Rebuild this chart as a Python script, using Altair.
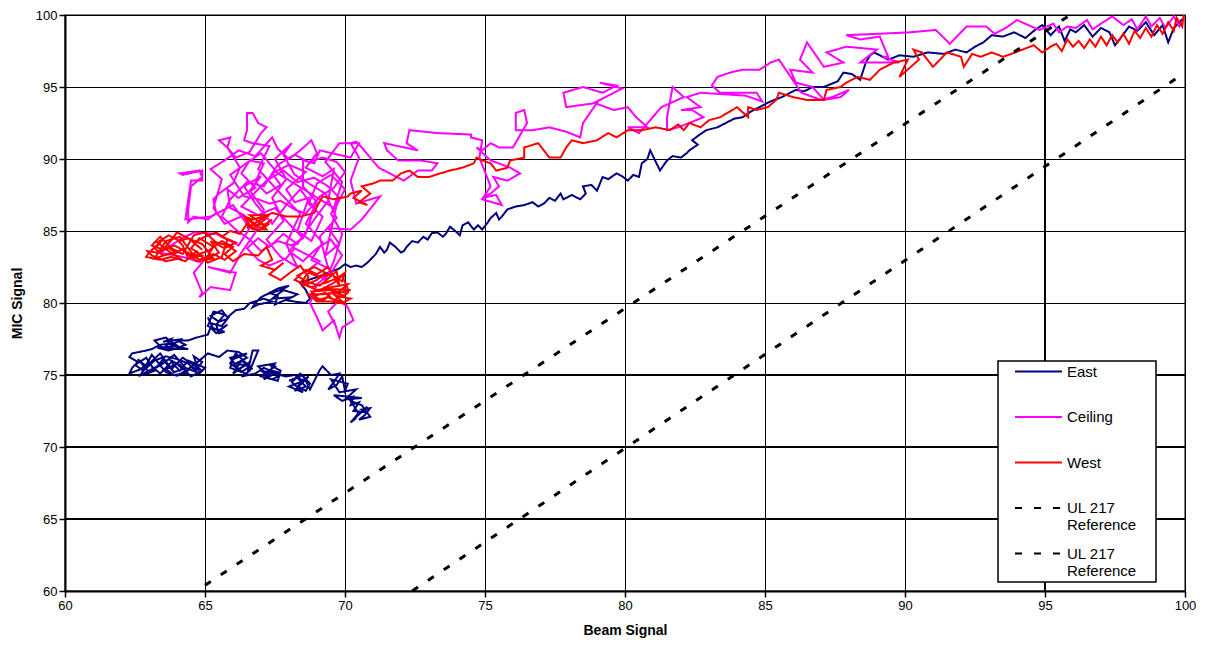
import altair as alt
import pandas as pd

FONT = "Liberation Sans"

# ---------------- data ----------------
east = [
(99.9, 99.7), (99.6, 99.1), (99.4, 98.1), (99.2, 99.3), (98.9, 98.6), (98.6, 99.5), (98.3, 98.9), (98.0, 99.2),
(97.7, 98.4), (97.5, 97.9), (97.3, 98.8), (97.0, 99.1), (96.7, 98.5), (96.4, 99.3), (96.1, 98.8), (95.9, 99.0),
(95.7, 98.2), (95.5, 99.2), (95.2, 98.6), (94.9, 99.3), (94.6, 98.9), (94.3, 98.4), (93.9, 98.8), (93.5, 98.5),
(93.1, 98.6), (92.8, 98.1), (92.5, 97.8), (92.2, 97.4), (91.8, 97.6), (91.4, 97.3), (90.8, 97.4), (90.3, 97.1),
(89.8, 97.2), (89.4, 96.9), (88.9, 97.4), (88.75, 97.2), (88.6, 96.7), (88.4, 95.5), (88.1, 95.9), (87.8, 96.0),
(87.6, 95.4), (87.1, 95.0), (86.7, 95.0), (86.4, 94.7), (86.1, 94.8), (85.8, 94.5), (85.6, 94.3), (85.2, 94.0),
(84.8, 93.6), (84.5, 93.3), (84.2, 92.9), (83.9, 92.8), (83.6, 92.5), (83.3, 92.2), (82.9, 92.0), (82.6, 91.6),
(82.4, 91.3), (82.6, 91.0), (82.3, 90.6), (82.2, 90.4), (82.0, 90.1), (81.7, 90.2), (81.5, 89.9), (81.25, 89.2),
(81.1, 89.8), (80.9, 90.6), (80.8, 90.0), (80.6, 89.7), (80.5, 88.75), (80.3, 88.9), (80.1, 88.5), (79.9, 88.8),
(79.7, 89.0), (79.4, 88.6), (79.2, 88.75), (79.0, 87.8), (78.8, 88.2), (78.5, 88.1), (78.6, 87.6), (78.5, 87.4),
(78.4, 87.2), (78.1, 87.5), (77.8, 87.2), (77.7, 87.6), (77.5, 87.1), (77.3, 87.3), (77.1, 86.9), (76.9, 86.7),
(76.7, 87.0), (76.4, 86.8), (76.1, 86.7), (75.8, 86.5), (75.6, 86.0), (75.5, 85.8), (75.4, 86.25), (75.2, 85.9),
(75.1, 85.6), (74.9, 85.1), (74.75, 85.4), (74.6, 85.1), (74.4, 85.6), (74.2, 85.4), (74.1, 84.7), (74.0, 84.9),
(73.75, 85.3), (73.6, 84.8), (73.5, 84.6), (73.3, 84.9), (73.1, 84.85), (72.95, 84.4), (72.8, 84.6), (72.6, 84.2),
(72.4, 84.3), (72.2, 83.9), (72.1, 83.6), (72.0, 83.5), (71.8, 83.9), (71.6, 84.2), (71.5, 83.7), (71.4, 83.5),
(71.25, 83.9), (71.1, 83.4), (70.9, 83.0), (70.8, 82.8), (70.6, 82.5), (70.4, 82.6), (70.2, 82.5), (70.0, 82.7),
(69.8, 82.4), (69.4, 82.1), (69.0, 81.8), (68.7, 81.6), (68.4, 81.4), (68.6, 80.9), (68.75, 80.3), (68.6, 80.0),
(68.2, 80.1), (67.9, 80.2), (68.3, 80.6), (67.8, 80.9), (67.4, 80.3), (68.1, 80.4), (67.5, 79.9), (67.6, 80.5),
(67.3, 80.7), (67.6, 81.0), (68.0, 81.2), (67.7, 80.9), (67.2, 80.6), (67.0, 80.4), (66.8, 80.0), (66.7, 79.7),
(66.9, 79.9), (67.4, 80.1), (67.1, 80.3), (66.6, 80.0), (66.4, 79.6), (66.1, 79.5), (65.8, 79.0), (65.6, 79.5),
(65.4, 79.3), (65.2, 79.1), (65.5, 78.7), (65.8, 78.9), (65.6, 78.4), (65.2, 78.6), (65.1, 79.0), (65.3, 78.2),
(65.7, 78.0), (65.5, 77.9), (65.4, 78.5), (65.7, 79.2), (65.3, 79.4), (65.1, 78.4), (65.5, 78.1), (65.8, 78.5),
(65.4, 77.9), (65.2, 78.3), (65.1, 77.8), (64.7, 77.6), (64.4, 77.4), (64.0, 77.4), (64.3, 77.1), (63.9, 76.8),
(63.6, 77.0), (63.8, 77.5), (63.5, 77.3), (64.2, 77.5), (63.8, 77.1), (64.4, 76.8), (63.5, 76.8), (63.2, 77.4),
(63.6, 77.6), (64.0, 77.0), (63.3, 76.9), (63.7, 76.7), (64.1, 76.9), (63.9, 77.2), (63.4, 77.1), (63.1, 76.8),
(62.9, 76.7), (62.4, 76.5), (62.3, 76.25), (62.6, 75.9), (62.4, 75.5), (62.3, 75.1), (62.7, 75.4), (63.0, 75.9),
(63.2, 75.3), (62.8, 75.0), (63.3, 75.6), (63.5, 76.1), (63.7, 75.6), (63.9, 75.2), (64.2, 75.4), (64.0, 75.8),
(63.6, 75.4), (63.9, 75.0), (64.3, 75.1), (64.5, 75.6), (64.7, 75.4), (64.9, 75.9), (64.6, 76.3), (64.8, 75.1),
(65.0, 75.5), (64.4, 76.0), (64.1, 75.3), (63.8, 75.9), (63.4, 75.1), (63.1, 75.6), (62.9, 76.2), (62.5, 75.7),
(62.8, 75.3), (63.2, 76.0), (63.6, 76.3), (64.0, 76.1), (64.4, 75.8), (64.7, 75.2), (64.3, 75.5), (63.9, 76.4),
(63.5, 75.8), (63.0, 75.2), (62.6, 76.1), (62.9, 75.6), (63.4, 76.5), (63.8, 75.4), (64.2, 76.2), (64.6, 75.7),
(64.9, 75.3), (64.5, 74.9), (64.1, 75.7), (63.7, 76.1), (63.2, 75.5), (62.7, 75.0), (63.1, 76.4), (63.6, 75.2),
(64.0, 74.95), (64.4, 75.4), (64.8, 76.0), (65.1, 76.5), (65.5, 76.25), (65.8, 76.7), (66.2, 76.6), (66.5, 76.2),
(66.1, 75.8), (66.6, 75.6), (66.3, 75.2), (65.9, 75.5), (66.0, 76.1), (66.4, 76.4), (66.5, 76.5), (65.9, 76.2),
(66.2, 75.4), (66.6, 75.9), (66.0, 75.1), (66.3, 76.0), (66.7, 75.4), (66.1, 76.5), (65.9, 75.8), (66.5, 75.0),
(66.7, 76.7), (66.9, 76.7), (66.6, 75.3), (66.3, 74.9), (66.8, 75.1), (67.1, 75.5), (67.4, 75.2), (67.2, 74.8),
(67.6, 74.6), (67.7, 75.3), (67.3, 75.7), (67.5, 75.6), (67.0, 74.9), (67.4, 74.7), (67.7, 75.0), (67.2, 75.4),
(67.6, 75.2), (67.1, 74.7), (67.5, 75.8), (66.9, 75.6), (67.3, 74.9), (67.0, 75.3), (67.9, 74.9), (68.2, 75.0),
(68.5, 74.6), (68.3, 74.2), (68.6, 73.9), (68.75, 74.4), (68.4, 75.1), (68.1, 74.5), (68.5, 73.8), (68.0, 74.2),
(68.4, 74.5), (68.7, 74.9), (68.2, 73.9), (68.6, 74.2), (68.3, 74.8), (68.0, 74.6), (68.5, 75.0), (68.75, 74.0),
(69.1, 75.35), (69.2, 75.6), (69.5, 75.0), (69.8, 75.1), (69.6, 74.5), (69.4, 74.0), (69.7, 74.3), (69.9, 74.9),
(70.0, 73.9), (70.1, 74.4), (69.5, 74.7), (69.8, 73.8), (70.4, 74.0), (70.0, 73.3), (70.6, 73.4), (69.6, 73.6),
(69.9, 73.2), (70.3, 73.5), (70.2, 72.9), (70.5, 73.1), (70.3, 72.5), (70.8, 72.4), (70.6, 72.6), (70.9, 72.7),
(70.7, 72.2), (70.5, 71.9), (70.9, 72.1), (70.6, 72.9), (70.2, 73.2), (70.5, 72.3), (70.8, 72.8), (70.3, 71.9),
(70.4, 72.0), (70.2, 71.7), (70.5, 72.4),
]

ceiling = [
(100.0, 99.9), (99.8, 99.2), (99.6, 99.9), (99.3, 99.1), (99.1, 99.8), (98.8, 99.2), (98.6, 99.9), (98.3, 99.0),
(98.1, 99.7), (97.8, 99.3), (97.4, 99.9), (97.0, 99.4), (96.7, 99.0), (96.5, 99.65), (96.1, 99.1), (95.8, 99.2),
(95.5, 98.8), (95.3, 99.4), (94.8, 98.96), (94.4, 99.3), (94.0, 99.65), (93.6, 99.1), (93.2, 98.7), (92.9, 99.2),
(92.2, 99.2), (91.6, 98.0), (91.1, 98.96), (90.2, 98.8), (89.1, 98.7), (87.9, 98.6), (88.4, 98.3), (89.1, 98.5),
(89.4, 97.1), (89.2, 97.1), (89.8, 96.7), (88.4, 96.7), (89.0, 97.6), (87.9, 97.8), (87.2, 97.4), (87.8, 96.7),
(87.1, 96.4), (86.5, 98.1), (86.25, 96.9), (86.7, 96.0), (85.9, 96.2), (86.1, 95.3), (86.7, 95.0), (87.1, 94.1),
(87.7, 94.3), (88.0, 94.8), (87.4, 94.3), (87.0, 94.1), (86.3, 94.6), (85.5, 96.9), (85.2, 96.7), (84.8, 96.2),
(84.2, 96.2), (83.75, 96.0), (83.3, 95.7), (83.1, 95.1), (83.4, 94.6), (84.7, 94.6), (84.9, 94.0), (84.3, 94.4),
(82.7, 94.6), (82.2, 94.3), (82.7, 93.6), (82.0, 93.4), (82.4, 93.4), (82.8, 92.9), (81.9, 92.2), (81.5, 92.0),
(81.5, 92.9), (81.7, 95.0), (82.1, 94.3), (81.3, 93.6), (80.5, 91.8), (80.1, 92.2), (80.8, 92.2), (80.4, 92.9),
(80.1, 93.6), (79.6, 93.4), (78.9, 93.9), (79.9, 94.9), (79.1, 95.3), (79.7, 95.1), (79.2, 94.6), (78.5, 95.0),
(77.8, 94.6), (77.9, 93.6), (79.0, 93.9), (78.75, 93.2), (78.5, 92.5), (78.4, 91.5), (77.9, 91.9), (77.3, 92.2),
(76.7, 92.0), (76.1, 92.0), (76.1, 93.2), (76.4, 93.4), (76.5, 92.5), (76.0, 90.8), (75.5, 90.8), (75.2, 91.1),
(74.9, 90.6), (74.7, 90.8), (75.2, 89.9), (75.9, 89.4), (76.25, 89.0), (75.8, 88.5), (75.3, 88.75), (75.5, 88.1),
(75.2, 87.6), (74.9, 87.3), (75.4, 87.5), (75.6, 86.8), (74.9, 87.2), (75.2, 88.1), (74.8, 90.1), (74.9, 91.3),
(74.5, 91.5), (74.5, 91.7), (73.3, 91.8), (72.3, 92.0), (72.2, 91.1), (72.6, 90.6), (71.4, 91.1), (71.5, 90.6),
(71.9, 89.9), (72.7, 89.9), (73.3, 89.7), (73.1, 89.2), (72.6, 89.2), (72.1, 88.5), (71.2, 89.4), (70.6, 90.8),
(70.4, 91.2), (70.2, 91.1), (70.5, 90.1), (70.2, 88.5), (70.4, 86.9), (71.25, 87.4), (70.6, 85.8), (70.2, 85.1),
(69.4, 85.2), (69.8, 84.1), (69.3, 83.3), (69.7, 86.8), (70.0, 87.9), (69.5, 88.9), (69.0, 88.3), (68.7, 86.9),
(69.2, 86.0), (68.8, 84.3), (68.3, 85.0), (68.7, 87.3), (68.2, 87.0), (67.9, 87.9), (68.6, 89.1), (68.0, 89.6),
(67.4, 89.0), (67.7, 88.2), (67.2, 87.6), (66.8, 88.4), (67.1, 89.7), (66.6, 89.9), (66.3, 89.0), (66.8, 88.0),
(66.2, 87.3), (65.8, 87.9), (65.9, 86.6), (66.4, 86.1), (65.7, 85.5), (65.3, 86.6), (65.6, 88.6), (65.2, 89.3),
(65.7, 89.9), (66.2, 90.6), (66.8, 90.2), (67.4, 91.5), (67.6, 90.7), (68.0, 90.0), (68.4, 90.6), (68.8, 91.3),
(69.0, 90.4), (68.6, 89.4), (69.2, 88.8), (69.6, 89.3), (69.4, 87.1), (68.9, 85.8), (68.3, 84.1), (67.8, 84.8),
(67.3, 83.9), (66.9, 84.5), (66.5, 83.8), (66.9, 83.0), (67.3, 82.6), (67.9, 83.1), (68.2, 83.8), (68.6, 83.4),
(69.1, 82.9), (68.7, 82.3), (69.3, 81.6), (69.6, 82.9), (69.9, 84.8), (69.5, 86.2), (69.8, 87.3), (69.4, 88.1),
(68.9, 88.7), (68.3, 88.4), (67.8, 89.2), (67.2, 88.5), (66.7, 87.5), (66.3, 86.7), (66.9, 86.1), (67.5, 86.6),
(68.0, 85.5), (68.5, 84.5), (68.1, 84.0), (67.6, 84.3), (67.0, 83.6), (66.6, 84.4), (66.1, 85.1), (65.6, 86.0),
(65.9, 87.2), (66.5, 88.4), (67.1, 88.1), (67.6, 89.6), (68.2, 90.3), (68.7, 89.8), (69.2, 90.1), (69.7, 89.8),
(70.0, 89.1), (69.6, 88.0), (69.1, 87.4), (68.6, 86.2), (68.2, 86.5), (67.7, 87.1), (67.3, 86.9), (66.9, 87.2),
(66.4, 87.4), (65.9, 88.9), (66.4, 89.6), (67.0, 90.4), (67.6, 89.0), (69.6, 86.6), (69.9, 88.4), (69.3, 89.8),
(69.8, 91.1), (70.5, 91.1), (70.2, 90.1), (69.1, 90.6), (68.9, 89.7), (68.5, 89.9), (68.5, 88.1), (69.0, 87.0),
(68.6, 85.5), (69.2, 84.2), (68.8, 83.0), (69.4, 82.4), (69.1, 84.6), (69.7, 85.9), (69.3, 87.6), (68.2, 88.9),
(67.8, 90.3), (68.1, 91.1), (67.5, 90.0), (67.9, 88.6), (67.4, 87.3), (67.8, 85.7), (67.2, 84.4), (67.7, 83.2),
(68.3, 82.5), (67.9, 84.1), (68.4, 86.2), (67.6, 87.8), (66.9, 89.3), (67.3, 90.9), (66.7, 91.1), (66.4, 91.3),
(66.5, 92.0), (66.5, 93.2), (66.7, 93.2), (66.9, 92.5), (67.2, 92.2), (67.0, 91.8), (66.6, 90.5), (66.1, 90.1),
(65.8, 90.8), (65.9, 91.5), (65.5, 91.3), (65.8, 90.8), (66.25, 89.4), (66.0, 88.3), (65.5, 87.6), (65.3, 87.2),
(65.4, 86.25), (65.1, 85.8), (64.6, 86.0), (64.4, 85.6), (64.4, 86.5), (64.5, 88.1), (64.9, 88.75), (64.8, 89.2),
(64.1, 89.0), (64.2, 88.9), (64.9, 89.2), (64.9, 88.5), (64.5, 88.5), (64.4, 87.2), (64.3, 85.8), (65.2, 86.0),
(66.0, 86.8), (66.6, 85.2), (66.2, 84.0), (65.4, 84.8), (64.6, 84.9), (64.1, 84.4), (63.4, 83.5), (64.2, 83.2),
(64.9, 82.8), (64.6, 82.1), (64.9, 80.7), (64.8, 80.4), (65.2, 81.1), (65.9, 80.9), (66.1, 82.1), (65.1, 82.5),
(65.9, 82.1), (66.3, 83.5), (66.8, 84.9), (67.1, 86.5), (66.6, 87.8), (67.0, 88.8), (66.4, 88.1), (66.8, 86.9),
(67.4, 85.5), (67.9, 86.8), (68.4, 87.9), (68.9, 86.6), (68.6, 84.8), (68.0, 83.6), (68.5, 82.9), (69.0, 83.8),
(69.5, 84.4), (69.9, 83.3), (69.5, 82.1), (69.0, 81.3), (68.75, 80.0), (69.0, 79.0), (69.2, 78.1), (69.6, 78.8),
(69.8, 77.6), (69.9, 78.3), (70.3, 78.8), (70.1, 79.7), (69.8, 80.2), (69.4, 79.4), (69.7, 78.3),
]

west = [
(99.95, 100.0), (99.9, 99.2), (99.7, 99.8), (99.6, 98.9), (99.4, 99.5), (99.2, 98.7), (99.0, 99.3), (98.8, 98.5),
(98.6, 99.1), (98.4, 98.4), (98.2, 98.9), (98.0, 98.0), (97.8, 98.7), (97.6, 98.1), (97.4, 98.6), (97.2, 97.9),
(97.0, 98.5), (96.8, 97.8), (96.6, 98.3), (96.4, 97.7), (96.2, 98.2), (96.0, 97.8), (95.8, 98.3), (95.6, 97.5),
(95.4, 98.0), (95.2, 97.8), (94.9, 97.4), (94.6, 97.9), (94.2, 97.6), (93.8, 97.3), (93.5, 97.1), (93.1, 97.4),
(92.7, 97.1), (92.4, 97.3), (92.1, 96.4), (92.0, 97.1), (91.5, 97.4), (91.0, 96.4), (90.6, 97.4), (90.3, 97.6),
(90.5, 96.9), (89.8, 95.7), (90.1, 96.9), (89.6, 96.7), (89.1, 96.2), (88.75, 95.5), (88.3, 95.7), (87.9, 95.3),
(87.7, 95.0), (87.2, 94.8), (87.1, 94.1), (86.5, 94.1), (86.0, 94.3), (85.5, 94.6), (85.4, 94.1), (85.1, 93.6),
(84.7, 93.4), (84.4, 93.6), (84.4, 92.9), (84.0, 93.6), (83.4, 92.9), (83.0, 92.7), (82.7, 92.2), (82.3, 92.5),
(82.1, 92.0), (81.9, 92.4), (81.6, 92.0), (81.1, 92.2), (80.6, 92.0), (80.1, 92.0), (79.7, 91.5), (79.4, 91.8),
(79.0, 91.3), (78.5, 91.1), (78.1, 91.3), (77.9, 90.8), (77.7, 90.1), (77.3, 90.1), (77.1, 90.6), (76.9, 91.1),
(76.4, 90.8), (76.4, 90.1), (75.9, 89.9), (75.8, 89.4), (75.4, 89.2), (75.2, 89.7), (74.9, 89.9), (74.7, 90.1),
(74.6, 89.7), (74.2, 89.4), (73.75, 89.2), (73.4, 89.0), (73.0, 88.75), (72.6, 88.75), (72.3, 89.2), (72.0, 89.0),
(71.7, 88.5), (71.25, 88.5), (71.0, 88.3), (70.6, 88.1), (70.9, 87.6), (70.5, 87.0), (70.8, 86.8), (70.3, 87.3),
(70.6, 87.8), (70.2, 87.6), (70.1, 87.4), (69.6, 87.2), (69.2, 87.4), (69.0, 86.7), (68.9, 86.25), (68.4, 86.0),
(67.9, 86.0), (67.4, 86.25), (67.1, 86.0), (66.7, 85.8), (66.4, 86.0), (66.7, 85.1), (67.2, 85.1), (67.0, 85.6),
(67.2, 85.9), (66.8, 85.3), (66.5, 85.9), (67.0, 85.2), (67.4, 85.8), (67.1, 85.4), (66.6, 86.1), (67.3, 86.1),
(66.9, 85.7), (66.5, 85.2), (66.6, 85.4), (67.3, 85.5), (66.9, 85.0), (66.5, 85.5), (66.25, 84.8), (65.9, 85.0),
(65.6, 84.6), (66.1, 84.2), (65.7, 83.8), (65.2, 84.3), (65.5, 83.5), (65.0, 83.0), (65.3, 83.9), (64.8, 84.5),
(64.5, 83.8), (64.9, 83.3), (64.4, 83.1), (64.2, 84.0), (63.9, 84.6), (63.6, 83.9), (64.0, 83.5), (63.5, 83.3),
(63.2, 83.8), (63.5, 84.4), (63.0, 83.5), (62.9, 83.2), (63.4, 83.0), (63.8, 83.2), (64.3, 82.9), (64.7, 83.6),
(65.1, 82.8), (65.6, 83.2), (65.8, 84.4), (65.4, 84.9), (65.0, 84.6), (64.6, 84.2), (64.9, 83.7), (64.4, 84.5),
(64.1, 84.3), (63.7, 84.7), (63.3, 84.2), (63.7, 83.6), (64.1, 83.1), (63.6, 82.9), (63.1, 83.3), (62.95, 83.6),
(63.3, 83.5), (63.9, 84.0), (64.3, 83.6), (64.8, 83.0), (65.3, 83.4), (65.7, 83.0), (66.1, 83.6), (65.8, 84.0),
(65.4, 84.2), (65.0, 84.9), (64.6, 84.7), (64.2, 83.4), (63.8, 83.8), (63.4, 84.6), (63.1, 84.0), (63.5, 83.7),
(64.0, 84.9), (64.5, 84.4), (64.9, 84.1), (65.3, 83.1), (64.7, 82.9), (64.2, 83.7), (63.7, 83.4), (63.2, 83.1),
(63.6, 84.3), (64.1, 84.6), (64.6, 83.3), (65.1, 83.6), (65.6, 84.3), (66.0, 83.9), (65.7, 83.4), (66.0, 82.9),
(66.4, 83.4), (66.9, 83.3), (67.2, 83.9), (67.4, 83.0), (67.0, 82.6), (67.5, 82.3), (67.8, 82.8), (67.3, 82.0),
(67.7, 81.6), (68.1, 82.2), (68.4, 82.6), (68.7, 81.8), (68.5, 81.2), (69.0, 81.6), (69.3, 82.1), (68.9, 82.5),
(68.3, 81.9), (68.6, 81.5), (69.1, 81.2), (69.4, 81.7), (69.7, 82.2), (69.8, 81.2), (69.4, 82.5), (69.0, 82.0),
(68.6, 82.3), (68.2, 81.6), (68.8, 81.1), (69.3, 81.4), (69.7, 81.7), (70.0, 82.1), (69.9, 81.5), (69.5, 82.0),
(69.1, 81.8), (68.7, 82.1), (68.4, 81.4), (69.0, 80.9), (69.5, 81.1), (70.1, 81.3), (69.8, 80.8), (69.2, 80.6),
(68.7, 80.6), (69.0, 80.1), (69.5, 80.1), (70.0, 79.95), (69.6, 80.6), (70.2, 80.9), (69.2, 81.0), (69.6, 81.4),
(69.9, 81.9), (70.1, 81.0), (70.1, 80.7), (69.6, 80.2), (69.3, 80.7), (68.9, 80.5), (69.2, 80.1), (69.6, 80.9),
(70.0, 80.4), (69.7, 80.5), (70.2, 80.3), (69.9, 80.0), (69.4, 80.4), (69.0, 80.2), (68.8, 80.8), (69.5, 80.9),
(69.8, 80.6),
]

ref1 = [(65.0, 60.4), (95.9, 100.0)]
ref2 = [(72.4, 60.0), (100.0, 96.0)]

series_names = ["East", "Ceiling", "West", "ref1", "ref2"]
series_colors = ["#000080", "#FF00FF", "#FF0000", "#000000", "#000000"]
series_dash = [[1, 0], [1, 0], [1, 0], [7, 12], [7, 12]]

x_ticks = [60, 65, 70, 75, 80, 85, 90, 95, 100]
y_ticks = [60, 65, 70, 75, 80, 85, 90, 95, 100]
thick_y = [65, 70, 75]
thick_x = [95]

# ---------------- build table ----------------
rows = []
for name, pts in zip(series_names, [east, ceiling, west, ref1, ref2]):
    for i, (xv, yv) in enumerate(pts):
        rows.append({"series": name, "idx": i, "x": xv, "y": yv})
df = pd.DataFrame(rows)

legend = alt.Legend(
    title=None, orient="none", legendX=933, legendY=346, direction="vertical",
    fillColor="white", strokeColor="black", padding=3,
    symbolType="M-4,0H4", symbolSize=138, symbolStrokeWidth=2, symbolOffset=30,
    labelOffset=21, labelFont=FONT, labelFontSize=15, labelColor="black",
    labelBaseline="middle", rowPadding=12.5, labelLimit=300,
    labelExpr="(datum.value == 'ref1' || datum.value == 'ref2') ? ['UL 217', 'Reference\u00a0\u00a0\u00a0\u00a0\u200b'] : [datum.label, ' ']",
)

xs = alt.Scale(domain=[60, 100], nice=False, zero=False)
ys = alt.Scale(domain=[60, 100], nice=False, zero=False)
x_axis = alt.Axis(values=x_ticks, title="Beam Signal", titlePadding=11)
y_axis = alt.Axis(values=y_ticks, title="MIC Signal", titlePadding=11)

x_enc = alt.X("x:Q", scale=xs, axis=x_axis)
y_enc = alt.Y("y:Q", scale=ys, axis=y_axis)
color_enc = alt.Color("series:N", scale=alt.Scale(domain=series_names, range=series_colors), legend=legend)
dash_enc = alt.StrokeDash("series:N", scale=alt.Scale(domain=series_names, range=series_dash), legend=legend)

base = alt.Chart(df)

layers = []
for name in ["East", "Ceiling", "West"]:
    layers.append(
        base.transform_filter(alt.datum.series == name)
        .mark_line(clip=True, strokeWidth=2)
        .encode(x=x_enc, y=y_enc, color=color_enc, strokeDash=dash_enc, order=alt.Order("idx:Q"))
    )
layers.append(
    base.transform_filter((alt.datum.series == "ref1") | (alt.datum.series == "ref2"))
    .mark_line(clip=True, strokeWidth=3)
    .encode(x=x_enc, y=y_enc, color=color_enc, strokeDash=dash_enc, order=alt.Order("idx:Q"))
)
grid_h = alt.Chart(pd.DataFrame({"v": thick_y})).mark_rule(color="black", strokeWidth=2).encode(
    y=alt.Y("v:Q", scale=ys, axis=y_axis))
grid_v = alt.Chart(pd.DataFrame({"v": thick_x})).mark_rule(color="black", strokeWidth=2).encode(
    x=alt.X("v:Q", scale=xs, axis=x_axis))

chart = (
    alt.layer(grid_h, grid_v, *layers)
    .properties(
        width=1120, height=576,
        padding={"left": 57, "top": 7, "right": 12, "bottom": 49},
        autosize=alt.AutoSizeParams(type="none"),
    )
    .configure_view(stroke="#808080", strokeWidth=2)
    .configure_legend(strokeColor="black", strokeWidth=1.5)
    .configure_axis(
        labelFont=FONT, labelFontSize=13, labelColor="black", labelFlush=False,
        titleFont=FONT, titleFontSize=14, titleFontWeight="bold", titleColor="black",
        grid=True, gridColor="black", gridWidth=1, gridOpacity=1,
        domainColor="black", domainWidth=2, tickColor="black", tickWidth=1.5, tickSize=6,
        labelPadding=2,
    )
)

chart.save("out.html", embed_options={"renderer": "svg", "actions": False})
